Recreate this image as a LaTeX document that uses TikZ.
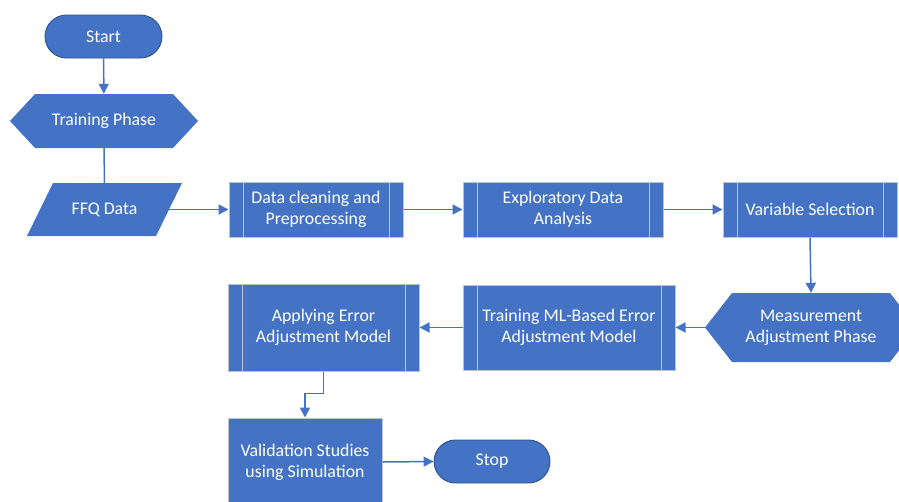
\documentclass[tikz,border=0pt]{standalone}
\usepackage{fontspec}
\setmainfont{Carlito}
\usetikzlibrary{arrows.meta}
\definecolor{fillblue}{HTML}{4472C4}
\definecolor{darkblue}{HTML}{2F528F}
\definecolor{edgegray}{HTML}{BFC4CC}
\begin{document}
\begin{tikzpicture}[x=1pt,y=-1pt,
  every node/.style={font=\fontsize{17.8}{21}\selectfont, text=white, align=center, inner sep=0pt},
  term/.style={draw=darkblue, line width=0.9pt, fill=fillblue, rounded corners=21.5pt, minimum height=43pt},
  proc/.style={draw=edgegray, line width=1pt, fill=fillblue,
    path picture={\draw[edgegray,line width=1pt]
      ([xshift=14pt]path picture bounding box.north west) -- ([xshift=14pt]path picture bounding box.south west)
      ([xshift=-14pt]path picture bounding box.north east) -- ([xshift=-14pt]path picture bounding box.south east);}},
  plainproc/.style={draw=edgegray, line width=1pt, fill=fillblue},
  hexa/.style={fill=white, path picture={\fill[fillblue]
      (path picture bounding box.west) -- ([xshift=#1]path picture bounding box.north west)
      -- ([xshift=-#1]path picture bounding box.north east) -- (path picture bounding box.east)
      -- ([xshift=-#1]path picture bounding box.south east) -- ([xshift=#1]path picture bounding box.south west) -- cycle;}},
  para/.style={fill=white, path picture={\fill[fillblue]
      ([xshift=#1]path picture bounding box.north west) -- (path picture bounding box.north east)
      -- ([xshift=-#1]path picture bounding box.south east) -- (path picture bounding box.south west) -- cycle;}},
  arr/.style={draw=fillblue, line width=1.5pt, -{Triangle[length=10pt,width=10pt]}},
  lin/.style={draw=fillblue, line width=1.5pt}
]
\useasboundingbox (0,0) rectangle (899,501);

\node[term, minimum width=117pt] (start) at (103.5,36.5) {Start};
\node[hexa=25pt, minimum width=188pt, minimum height=54pt] (train) at (104,121) {Training Phase};
\node[para=26pt, minimum width=155pt, minimum height=53pt] (ffq) at (104.5,209.5) {FFQ Data};
\node[proc, minimum width=174pt, minimum height=55pt] (clean) at (316,209.5) {Data cleaning and\\Preprocessing};
\node[proc, minimum width=200pt, minimum height=55pt] (eda) at (563,209.5) {Exploratory Data\\Analysis};
\node[proc, minimum width=174pt, minimum height=55pt] (var) at (810,209.5) {Variable Selection};
\node[hexa=27pt, minimum width=212pt, minimum height=69pt] (meas) at (811,327.5) {Measurement\\Adjustment Phase};
\node[proc, minimum width=212pt, minimum height=85pt] (tml) at (569,327.5) {Training ML-Based Error\\Adjustment Model};
\node[proc, minimum width=191pt, minimum height=87pt] (apply) at (323.5,327.5) {Applying Error\\Adjustment Model};
\node[plainproc, minimum width=154pt, minimum height=88pt] (valid) at (305,462) {Validation Studies\\using Simulation};
\node[term, minimum width=116pt] (stop) at (492,461.5) {Stop};

\draw[arr] (start) -- (train);
\draw[lin] (train) -- (ffq);
\draw[arr] ([xshift=-13pt]ffq.east) -- (clean.west);
\draw[arr] (clean.east) -- (eda.west);
\draw[arr] (eda.east) -- (var.west);
\draw[arr] (var.south) -- (meas.north);
\draw[arr] (meas.west) -- (tml.east);
\draw[arr] (tml.west) -- (apply.east);
\draw[arr] (apply.south) -- ++(0,22) -| (valid.north);
\draw[arr] (valid.east) -- (stop.west);
\end{tikzpicture}
\end{document}
